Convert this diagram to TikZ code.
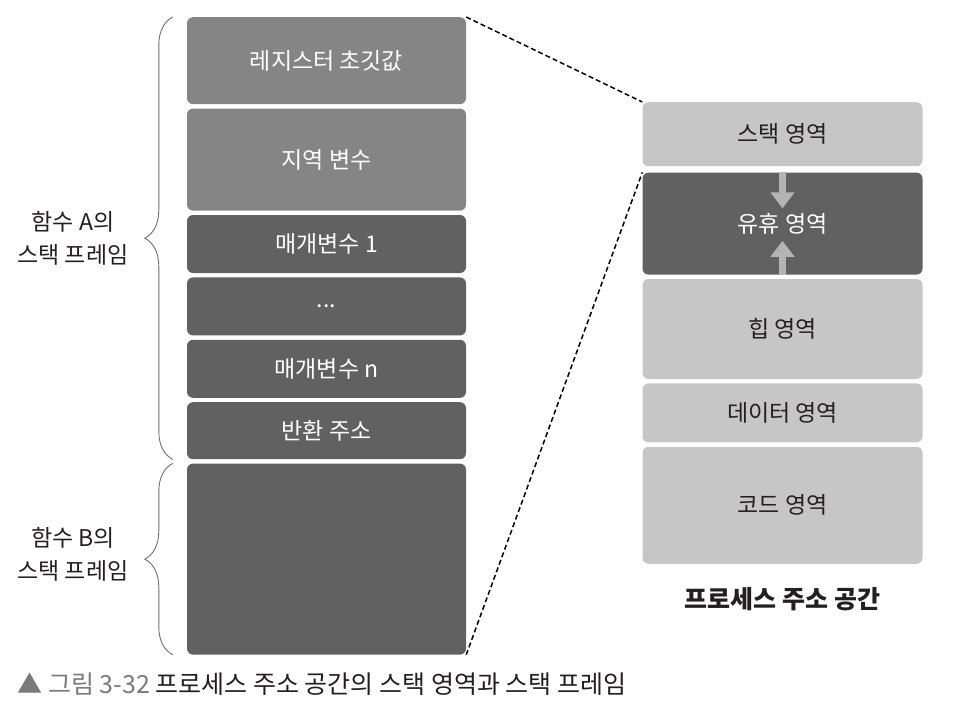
\documentclass[tikz,border=0pt]{standalone}
\usepackage{fontspec}
\setmainfont{Noto Sans CJK KR}
\usepackage{tikz}
\usetikzlibrary{arrows.meta, positioning, decorations.pathreplacing}
\definecolor{framemid}{HTML}{858585}
\definecolor{framedark}{HTML}{616161}
\definecolor{arealight}{HTML}{C6C6C6}
\definecolor{inktext}{HTML}{231F20}
\definecolor{captiongray}{HTML}{7A7A7A}
\definecolor{arrowgray}{HTML}{B4B4B4}
\definecolor{bracegray}{HTML}{6E6E6E}

\begin{document}
\begin{tikzpicture}
    [x=1pt, y=-1pt,
     font=\fontsize{23}{27}\selectfont,
     slot/.style={rounded corners=6pt, minimum width=279pt, inner sep=0pt, text=white},
     area/.style={rounded corners=6pt, minimum width=280pt, inner sep=0pt, fill=arealight, text=inktext},
     framelabel/.style={align=center, text=inktext, font=\fontsize{23}{33}\selectfont},
     framebrace/.style={draw=bracegray, line width=0.9pt, decorate, decoration={brace, amplitude=28pt}},
     zoomline/.style={draw, line width=1.5pt, dash pattern=on 5pt off 3pt},
     growth/.style={draw=arrowgray, line width=7pt, -{Triangle[width=23pt, length=16pt]}}]

    \useasboundingbox (0,0) rectangle (954,728);

    % stack frames of A and B
    \node[slot, fill=framemid, minimum height=87pt, anchor=north] (reg) at (326.5,17) {레지스터 초깃값};
    \node[slot, fill=framemid, minimum height=102pt, below=4pt of reg] (local) {지역 변수};
    \node[slot, fill=framedark, minimum height=58pt, below=4pt of local] (arg1) {매개변수 1};
    \node[slot, fill=framedark, minimum height=58pt, below=4pt of arg1] (dots) {...};
    \node[slot, fill=framedark, minimum height=58pt, below=4pt of dots] (argn) {매개변수 n};
    \node[slot, fill=framedark, minimum height=57pt, below=4pt of argn] (ret) {반환 주소};
    \node[slot, fill=framedark, minimum height=191pt, below=4pt of ret] (frameb) {};

    \draw[framebrace] ([xshift=-14pt]ret.south west) -- ([xshift=-14pt]reg.north west);
    \draw[framebrace] ([xshift=-14pt]frameb.south west) -- ([xshift=-14pt]frameb.north west);
    \node[framelabel] (labela) at (73,238) {함수 A의\\스택 프레임};
    \node[framelabel] (labelb) at (73,554) {함수 B의\\스택 프레임};

    % process address space
    \node[area, minimum height=64pt, anchor=north] (stack) at (782.5,102) {스택 영역};
    \node[area, fill=framedark, text=white, minimum height=102pt, below=6pt of stack] (idle) {유휴 영역};
    \node[area, minimum height=100pt, below=4pt of idle] (heap) {힙 영역};
    \node[area, minimum height=59pt, below=4pt of heap] (data) {데이터 영역};
    \node[area, minimum height=117pt, below=4pt of data] (code) {코드 영역};
    \node[text=inktext, font=\bfseries\fontsize{25}{29}\selectfont] (title) at (782.5,599) {프로세스 주소 공간};

    \coordinate (downtip) at ([yshift=-36pt]idle.north);
    \coordinate (uptip) at ([yshift=34pt]idle.south);
    \draw[growth] (idle.north) -- (downtip);
    \draw[growth] (idle.south) -- (uptip);

    \draw[zoomline] (reg.north east) -- (stack.north west);
    \draw[zoomline] (frameb.south east) -- (idle.north west);

    \node[anchor=west, text=inktext, font=\fontsize{25}{29}\selectfont] (caption) at (14,684)
        {\textcolor{captiongray}{▲ 그림 3-32} 프로세스 주소 공간의 스택 영역과 스택 프레임};
\end{tikzpicture}
\end{document}
